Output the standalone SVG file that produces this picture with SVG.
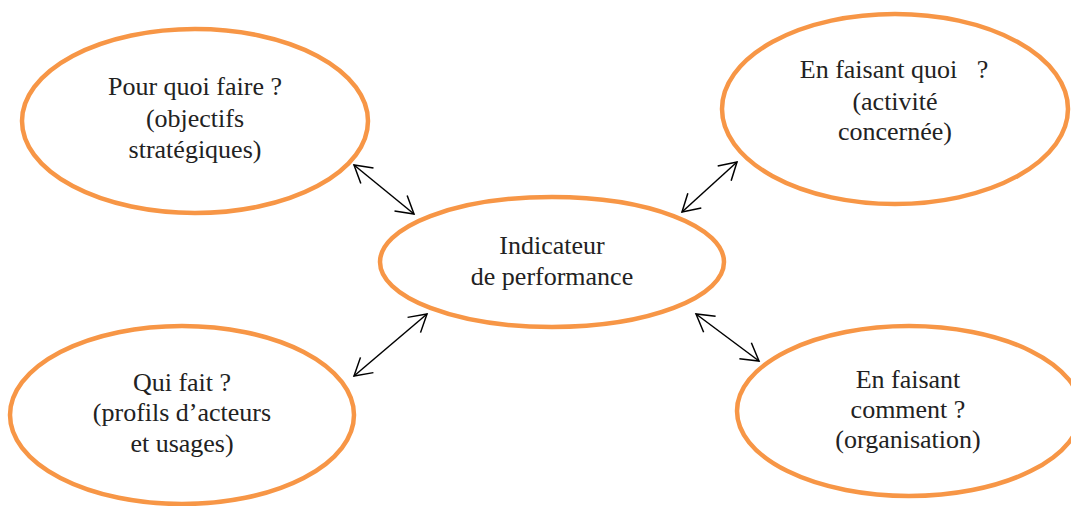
<svg xmlns="http://www.w3.org/2000/svg" width="1071" height="506" viewBox="0 0 1071 506">
  <style>
    .bubble { fill: #ffffff; stroke: #F79646; stroke-width: 4.5; }
    .label { font-family: "Liberation Serif", "Times New Roman", serif; font-size: 26px; fill: #222222; text-anchor: middle; }
    .link { stroke: #000000; stroke-width: 1.5; fill: none; marker-start: url(#tip); marker-end: url(#tip); }
  </style>
  <defs>
    <marker id="tip" markerUnits="userSpaceOnUse" orient="auto-start-reverse" refX="0" refY="0" viewBox="-20 -12 22 24" markerWidth="22" markerHeight="24" overflow="visible">
      <path d="M -17 -10 L 0 0 L -17 10" fill="none" stroke="#000000" stroke-width="1.5" stroke-linejoin="miter"/>
    </marker>
  </defs>
  <rect width="1071" height="506" fill="#ffffff"/>

  <!-- double-headed connectors between the centre and each question -->
  <g id="connectors">
    <line class="link" x1="354" y1="165" x2="414" y2="214"/>
    <line class="link" x1="682" y1="212" x2="737" y2="162"/>
    <line class="link" x1="354" y1="376" x2="427" y2="314"/>
    <line class="link" x1="696" y1="314" x2="759" y2="361"/>
  </g>

  <g id="node-objectifs">
    <ellipse class="bubble" cx="195" cy="121" rx="173" ry="92"/>
    <text class="label" x="195" y="95">Pour quoi faire ?</text>
    <text class="label" x="195" y="127">(objectifs</text>
    <text class="label" x="195" y="158">stratégiques)</text>
  </g>

  <g id="node-activite">
    <ellipse class="bubble" cx="895" cy="109" rx="173" ry="95"/>
    <text class="label" x="894" y="78">En faisant quoi&#160;&#160; ?</text>
    <text class="label" x="895" y="110">(activité</text>
    <text class="label" x="895" y="140">concernée)</text>
  </g>

  <g id="node-indicateur">
    <ellipse class="bubble" cx="552" cy="262" rx="172" ry="65"/>
    <text class="label" x="552" y="254">Indicateur</text>
    <text class="label" x="552" y="285">de performance</text>
  </g>

  <g id="node-acteurs">
    <ellipse class="bubble" cx="182" cy="415" rx="172" ry="89"/>
    <text class="label" x="182" y="391">Qui fait ?</text>
    <text class="label" x="182" y="421">(profils d’acteurs</text>
    <text class="label" x="182" y="452">et usages)</text>
  </g>

  <g id="node-organisation">
    <ellipse class="bubble" cx="909" cy="411" rx="172" ry="85"/>
    <text class="label" x="908" y="388">En faisant</text>
    <text class="label" x="908" y="418">comment ?</text>
    <text class="label" x="908" y="448">(organisation)</text>
  </g>
</svg>
